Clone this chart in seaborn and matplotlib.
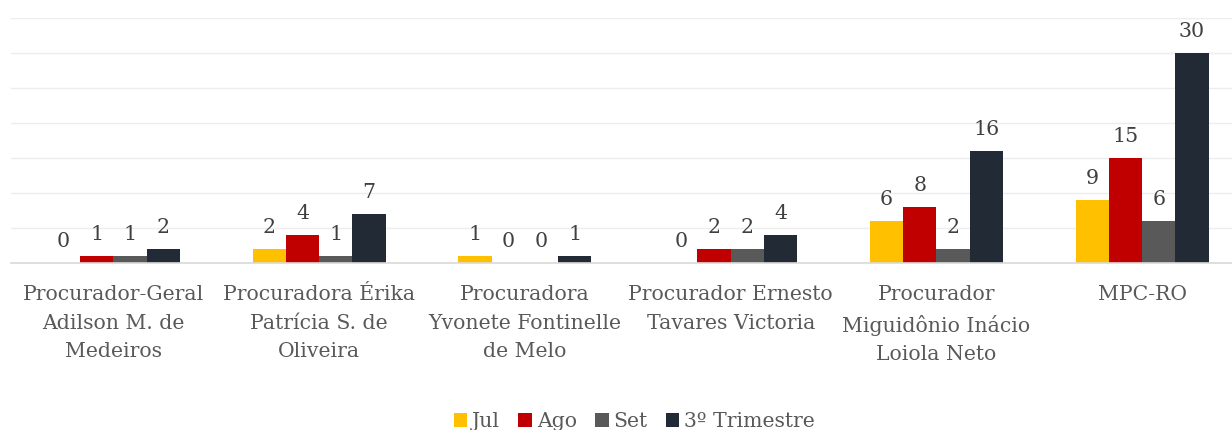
import matplotlib
matplotlib.use("Agg")
import matplotlib.pyplot as plt
import seaborn as sns
import pandas as pd
from matplotlib.patches import Patch

categories = [
    "Procurador-Geral\nAdilson M. de\nMedeiros",
    "Procuradora Érika\nPatrícia S. de\nOliveira",
    "Procuradora\nYvonete Fontinelle\nde Melo",
    "Procurador Ernesto\nTavares Victoria",
    "Procurador\nMiguidônio Inácio\nLoiola Neto",
    "MPC-RO",
]
series_names = ["Jul", "Ago", "Set", "3º Trimestre"]
jul = [0, 2, 1, 0, 6, 9]
ago = [1, 4, 0, 2, 8, 15]
set_ = [1, 1, 0, 2, 2, 6]
trimestre = [2, 7, 1, 4, 16, 30]
colors = ["#FFC000", "#C00000", "#595959", "#222A35"]

rows = []
for name, vals in zip(series_names, [jul, ago, set_, trimestre]):
    for c, v in zip(categories, vals):
        rows.append({"cat": c, "serie": name, "val": v})
df = pd.DataFrame(rows)

sns.set_theme(style="white")
plt.rcParams["font.family"] = ["DejaVu Serif"]

fig = plt.figure(figsize=(12.32, 4.3), dpi=100)
ax = fig.add_axes([0.0086, 0.388, 1.002, 0.57])

sns.barplot(data=df, x="cat", y="val", hue="serie", order=categories,
            hue_order=series_names, palette=colors, width=0.646,
            saturation=1, ax=ax, legend=False, edgecolor="none")

for cont in ax.containers:
    ax.bar_label(cont, padding=9, fontsize=14.8, color="#404040")

ax.set_ylim(0, 35)
ax.set_yticks(range(0, 36, 5))
ax.set_yticklabels([])
ax.yaxis.grid(True, color="#EDEDED", linewidth=1)
ax.set_axisbelow(True)
for s in ["top", "right", "left"]:
    ax.spines[s].set_visible(False)
ax.spines["bottom"].set_color("#D9D9D9")
ax.spines["bottom"].set_linewidth(1.2)
ax.set_xlabel("")
ax.set_ylabel("")
ax.tick_params(axis="x", length=0, pad=16, labelsize=14.7, labelcolor="#595959")
ax.tick_params(axis="y", length=0)
for lbl in ax.get_xticklabels():
    lbl.set_linespacing(1.62)

handles = [Patch(facecolor=c, edgecolor="none") for c in colors]
fig.legend(handles, series_names, loc="lower center", bbox_to_anchor=(0.515, -0.045),
           ncol=4, frameon=False, fontsize=14.7, labelcolor="#595959",
           handlelength=0.65, handleheight=0.65, handletextpad=0.25, columnspacing=0.9)

fig.savefig("out.png", dpi=100)
